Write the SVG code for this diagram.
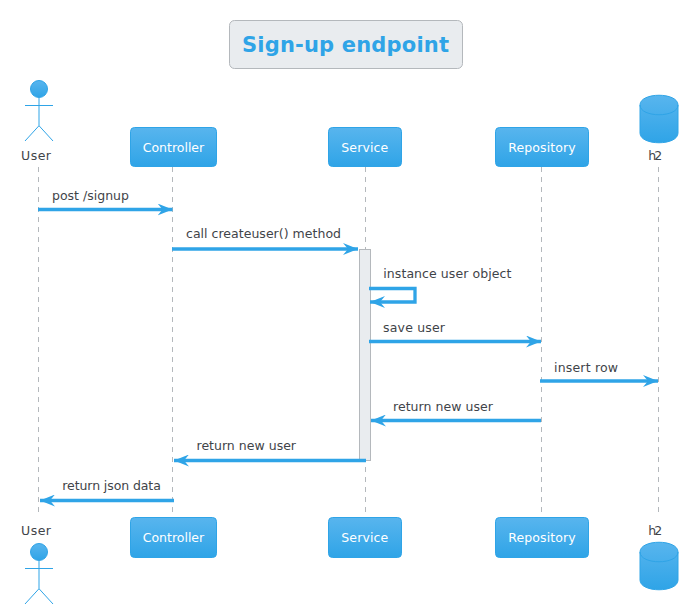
<svg xmlns="http://www.w3.org/2000/svg" width="699" height="615" viewBox="0 0 699 615">
<style>
text{font-family:"DejaVu Sans",sans-serif;font-size:12.5px;fill:#3f4449}
.p{fill:url(#g);stroke:#2fa4e7;stroke-width:1}
.pt{fill:#fff}
.ll{stroke:#b4b8bc;stroke-width:1;stroke-dasharray:5 5;fill:none}
.m{stroke:#2fa4e7;stroke-width:3.300;fill:none}
.a{stroke:#2fa4e7;stroke-width:1;fill:none}
</style>
<defs>
<linearGradient id="g" x1="0" y1="0" x2="0" y2="1"><stop offset="0" stop-color="#58b5ee"/><stop offset="1" stop-color="#2fa4e7"/></linearGradient>
<g id="actor"><circle cx="39" cy="0" r="8.500" class="p"/><path class="a" d="M39 9V36.700M25 16.500H53M39 36.700L25 52M39 36.700L53 52"/></g>
<g id="db"><path class="p" d="M640 105C640 92 678 92 678 105V133C678 146 640 146 640 133Z"/><path d="M640 105C640 118 678 118 678 105" fill="none" stroke="#2fa4e7"/></g>
</defs>
<g id="lifelines">
<path class="ll" d="M38.500 167V517"/>
<path class="ll" d="M172.500 167V517"/>
<path class="ll" d="M365.500 167V517"/>
<path class="ll" d="M541.500 167V517"/>
<path class="ll" d="M658.500 167V517"/>
</g>
<g id="title"><rect x="229.500" y="20.500" width="233" height="48" rx="5" fill="#e9ecef" stroke="#b4b8bc"/><text x="242" y="52" textLength="207" style="font-size:21px;font-weight:bold;fill:#2fa4e7">Sign-up endpoint</text></g>
<g id="activation"><rect x="359.500" y="249.500" width="11" height="211" fill="#e9ecef" stroke="#b4b8bc"/></g>
<g id="user-top"><use href="#actor" y="89"/><text x="21" y="160" textLength="30">User</text></g>
<g id="controller-top"><rect class="p" x="130.500" y="127.500" width="86" height="39" rx="4"/><text class="pt" x="142.700" y="151.500" textLength="61.500">Controller</text></g>
<g id="service-top"><rect class="p" x="328.500" y="127.500" width="73" height="39" rx="4"/><text class="pt" x="341.300" y="151.500" textLength="47">Service</text></g>
<g id="repository-top"><rect class="p" x="495.500" y="127.500" width="93" height="39" rx="4"/><text class="pt" x="508.300" y="151.500" textLength="67.400">Repository</text></g>
<g id="h2-top"><use href="#db"/><text x="648.300" y="160" textLength="14">h2</text></g>
<g id="user-bottom"><text x="21" y="535" textLength="30">User</text><use href="#actor" y="552"/></g>
<g id="controller-bottom"><rect class="p" x="130.500" y="517.500" width="86" height="40" rx="4"/><text class="pt" x="142.700" y="541.500" textLength="61.500">Controller</text></g>
<g id="service-bottom"><rect class="p" x="328.500" y="517.500" width="73" height="40" rx="4"/><text class="pt" x="341.300" y="541.500" textLength="47">Service</text></g>
<g id="repository-bottom"><rect class="p" x="495.500" y="517.500" width="93" height="40" rx="4"/><text class="pt" x="508.300" y="541.500" textLength="67.400">Repository</text></g>
<g id="h2-bottom"><text x="648.300" y="535" textLength="14">h2</text><use href="#db" y="447"/></g>
<g id="connectors">
<defs>
<marker id="r" markerUnits="userSpaceOnUse" markerWidth="16" markerHeight="12" refX="15" refY="6" orient="auto"><path d="M0 0L15 6L0 12L5 6Z" fill="#2fa4e7"/></marker>
</defs>
<path class="m" d="M38 209.500H172.500" marker-end="url(#r)"/>
<path class="m" d="M172 249H358" marker-end="url(#r)"/>
<path class="m" d="M369 288.500H415V302H370" marker-end="url(#r)"/>
<path class="m" d="M369 341.500H541" marker-end="url(#r)"/>
<path class="m" d="M540 381H658" marker-end="url(#r)"/>
<path class="m" d="M541 420.500H371" marker-end="url(#r)"/>
<path class="m" d="M366 460.500H174" marker-end="url(#r)"/>
<path class="m" d="M174 500.500H40" marker-end="url(#r)"/>
</g>
<g id="labels">
<text x="52" y="200" textLength="77">post /signup</text>
<text x="186" y="238" textLength="155">call createuser() method</text>
<text x="383.300" y="278" textLength="128">instance user object</text>
<text x="383" y="332" textLength="62">save user</text>
<text x="554" y="372" textLength="64">insert row</text>
<text x="393" y="411" textLength="100">return new user</text>
<text x="196.500" y="450" textLength="99.500">return new user</text>
<text x="62.300" y="490" textLength="98.500">return json data</text>
</g>
</svg>
